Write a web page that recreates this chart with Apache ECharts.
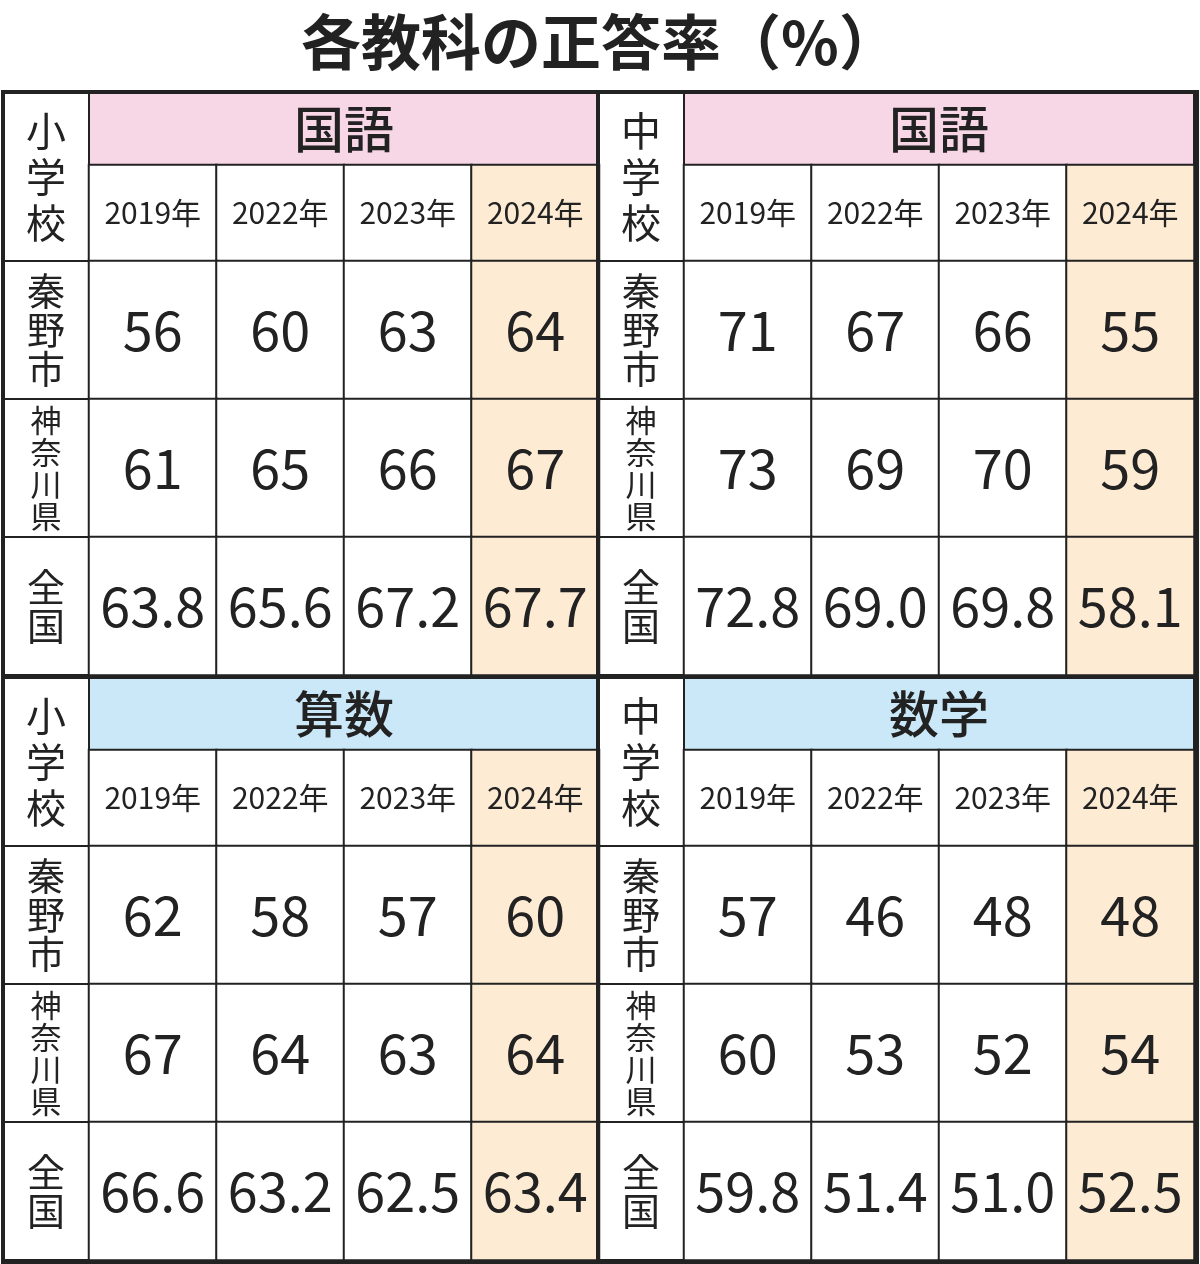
<!DOCTYPE html>
<html><head><meta charset="utf-8">
<script src="https://cdn.jsdelivr.net/npm/echarts@6/dist/echarts.min.js"></script>
<style>html,body{margin:0;padding:0;background:#fff}#c{width:1200px;height:1264px}</style>
</head><body><div id="c"></div>
<script>
const years=['2019年','2022年','2023年','2024年'];
const regions=['秦野市','神奈川県','全国'];
const elemJapanese=[[56,60,63,64],[61,65,66,67],[63.8,65.6,67.2,67.7]];
const juniorJapanese=[[71,67,66,55],[73,69,70,59],[72.8,69.0,69.8,58.1]];
const elemMath=[[62,58,57,60],[67,64,63,64],[66.6,63.2,62.5,63.4]];
const juniorMath=[[57,46,48,48],[60,53,52,54],[59.8,51.4,51.0,52.5]];

const F='"Noto Sans CJK JP"';
const PINK='#f7d6e6',BLUE='#cbe8f8',ORANGE='#fdebd4';
const panels=[
 {school:'小学校',subject:'国語',color:PINK,data:elemJapanese,x:3,y:92},
 {school:'中学校',subject:'国語',color:PINK,data:juniorJapanese,x:598,y:92},
 {school:'小学校',subject:'算数',color:BLUE,data:elemMath,x:3,y:677},
 {school:'中学校',subject:'数学',color:BLUE,data:juniorMath,x:598,y:677}
];
const labW=86,dataW=510,headH=73,yearH=96,rowH=138;
const grids=[],xAxes=[],yAxes=[],series=[],graphic=[];
const cellStyle=(xi)=>({color:xi===3?ORANGE:'#fff',borderColor:'#222',borderWidth:2});
const vert=s=>s.split('').join('\n');
panels.forEach((p,i)=>{
  const dx=p.x+labW;
  // year grid
  grids.push({left:dx,top:p.y+headH,width:dataW,height:yearH});
  xAxes.push({type:'category',gridIndex:2*i,data:years,show:false});
  yAxes.push({type:'category',gridIndex:2*i,data:['y'],show:false});
  series.push({type:'heatmap',xAxisIndex:2*i,yAxisIndex:2*i,
    data:years.map((y,xi)=>({value:[xi,0,0],itemStyle:cellStyle(xi)})),
    label:{show:true,formatter:q=>years[q.value[0]],fontFamily:F,fontSize:30,color:'#222'},emphasis:{disabled:true}});
  // data grid
  grids.push({left:dx,top:p.y+headH+yearH,width:dataW,height:rowH*3});
  xAxes.push({type:'category',gridIndex:2*i+1,data:years,show:false});
  yAxes.push({type:'category',gridIndex:2*i+1,data:regions,inverse:true,show:false});
  const d=[];
  p.data.forEach((row,ri)=>row.forEach((v,xi)=>d.push({value:[xi,ri,v],itemStyle:cellStyle(xi)})));
  series.push({type:'heatmap',xAxisIndex:2*i+1,yAxisIndex:2*i+1,data:d,
    label:{show:true,formatter:q=>q.value[1]===2?q.value[2].toFixed(1):String(q.value[2]),fontFamily:F,fontSize:54,color:'#222'},emphasis:{disabled:true}});
  // subject header
  graphic.push({type:'rect',shape:{x:dx,y:p.y,width:dataW,height:headH},style:{fill:p.color,stroke:'#222',lineWidth:2}});
  graphic.push({type:'text',x:dx+dataW/2-256,y:p.y+headH/2,style:{text:p.subject,font:'500 50px '+F,fill:'#222',align:'center',verticalAlign:'middle'}});
  // label column
  graphic.push({type:'rect',shape:{x:p.x,y:p.y,width:labW,height:headH+yearH},style:{fill:'#fff',stroke:'#222',lineWidth:2}});
  graphic.push({type:'text',x:p.x+labW/2,y:p.y+(headH+yearH)/2,style:{text:vert(p.school),font:'40px '+F,lineHeight:46,fill:'#222',align:'center',verticalAlign:'middle'}});
  regions.forEach((r,ri)=>{
    const ry=p.y+headH+yearH+ri*rowH;
    graphic.push({type:'rect',shape:{x:p.x,y:ry,width:labW,height:rowH},style:{fill:'#fff',stroke:'#222',lineWidth:2}});
    const fs=r.length===4?31:38;
    graphic.push({type:'text',x:p.x+labW/2,y:ry+rowH/2,style:{text:vert(r),font:fs+'px '+F,lineHeight:fs+1,fill:'#222',align:'center',verticalAlign:'middle'}});
  });
});
// fix header text positions (center over data area)
graphic.forEach(g=>{if(g.type==='text'&&g.style.font.startsWith('500')){g.x+=256;}});
graphic.push({type:'rect',z:100,shape:{x:3,y:92,width:1194,height:1170},style:{fill:'none',stroke:'#222',lineWidth:4}});
graphic.push({type:'line',z:100,shape:{x1:598,y1:92,x2:598,y2:1262},style:{stroke:'#222',lineWidth:4}});
graphic.push({type:'line',z:100,shape:{x1:3,y1:677,x2:1197,y2:677},style:{stroke:'#222',lineWidth:4}});
graphic.push({type:'text',x:600,y:42,style:{text:'各教科の正答率（%）',font:'bold 60px '+F,fill:'#222',align:'center',verticalAlign:'middle'}});

const chart=echarts.init(document.getElementById('c'));
chart.setOption({animation:false,grid:grids,xAxis:xAxes,yAxis:yAxes,series,graphic});
</script></body></html>
